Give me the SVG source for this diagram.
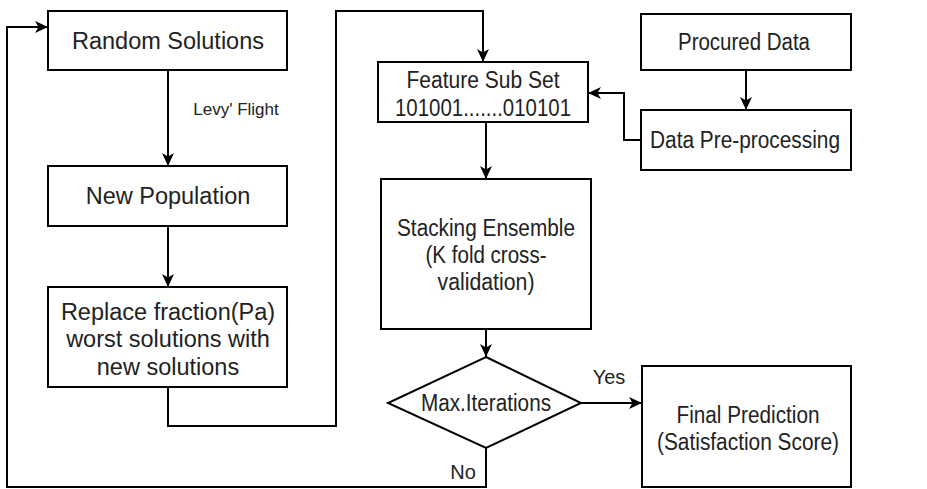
<svg xmlns="http://www.w3.org/2000/svg" width="927" height="489" viewBox="0 0 927 489">
<style>
.box{fill:#fff;stroke:#000;stroke-width:2}
.t{font-family:"Liberation Sans",Arial,sans-serif;font-size:23.5px;fill:#222;text-anchor:middle}
.r{font-family:"Liberation Sans",Arial,sans-serif;font-size:23px;fill:#222;text-anchor:middle}
.s{font-family:"Liberation Sans",Arial,sans-serif;font-size:17px;fill:#222;text-anchor:middle}
.l{font-family:"Liberation Sans",Arial,sans-serif;font-size:20px;fill:#222;text-anchor:middle}
.c{fill:none;stroke:#000;stroke-width:2}
</style>
<defs>
<marker id="arr" markerUnits="userSpaceOnUse" markerWidth="14" markerHeight="14" viewBox="0 0 14 14" refX="13" refY="7" orient="auto">
<path d="M0,1 L13,7 L0,13 L3.5,7 z" fill="#000"/>
</marker>
</defs>
<rect width="927" height="489" fill="#fff"/>
<g id="connectors">
<path class="c" d="M486,448 V487 H7 V27 H48" marker-end="url(#arr)"/>
<path class="c" d="M168,70 V166" marker-end="url(#arr)"/>
<path class="c" d="M168,226 V287" marker-end="url(#arr)"/>
<path class="c" d="M168,387 V426 H336 V11 H483 V62" marker-end="url(#arr)"/>
<path class="c" d="M746,70 V110" marker-end="url(#arr)"/>
<path class="c" d="M641,140 H624 V93 H588" marker-end="url(#arr)"/>
<path class="c" d="M486,122 V179" marker-end="url(#arr)"/>
<path class="c" d="M486,329 V357" marker-end="url(#arr)"/>
<path class="c" d="M581,403 H642" marker-end="url(#arr)"/>
<text class="s" x="236" y="115">Levy' Flight</text>
<text class="l" x="609" y="384">Yes</text>
<text class="l" x="463" y="479">No</text>
</g>
<g id="random">
<rect class="box" x="48" y="11" width="239" height="59"/>
<text class="t" x="168" y="49">Random Solutions</text>
</g>
<g id="newpop">
<rect class="box" x="48" y="166" width="239" height="60"/>
<text class="t" x="168" y="204">New Population</text>
</g>
<g id="replace">
<rect class="box" x="48" y="287" width="239" height="100"/>
<text class="t" x="168" y="320">Replace fraction(Pa)</text>
<text class="t" x="168" y="347">worst solutions with</text>
<text class="t" x="168" y="375">new solutions</text>
</g>
<g id="feature">
<rect class="box" x="378" y="62" width="210" height="60"/>
<text class="r" x="483" y="88" textLength="153" lengthAdjust="spacingAndGlyphs">Feature Sub Set</text>
<text class="r" x="483" y="116" textLength="176" lengthAdjust="spacingAndGlyphs">101001.......010101</text>
</g>
<g id="procured">
<rect class="box" x="641" y="14" width="210" height="56"/>
<text class="r" x="744" y="50" textLength="132" lengthAdjust="spacingAndGlyphs">Procured Data</text>
</g>
<g id="preproc">
<rect class="box" x="641" y="110" width="210" height="60"/>
<text class="r" x="745" y="148" textLength="190" lengthAdjust="spacingAndGlyphs">Data Pre-processing</text>
</g>
<g id="stacking">
<rect class="box" x="381" y="179" width="210" height="150"/>
<text class="r" x="486" y="236" textLength="178" lengthAdjust="spacingAndGlyphs">Stacking Ensemble</text>
<text class="r" x="486" y="263" textLength="121" lengthAdjust="spacingAndGlyphs">(K fold cross-</text>
<text class="r" x="486" y="290" textLength="97" lengthAdjust="spacingAndGlyphs">validation)</text>
</g>
<g id="maxiter">
<polygon class="box" points="486,357 581,403 486,448 388,403"/>
<text class="r" x="486" y="411" textLength="130" lengthAdjust="spacingAndGlyphs">Max.Iterations</text>
</g>
<g id="final">
<rect class="box" x="642" y="366" width="209" height="121"/>
<text class="r" x="748" y="423" textLength="143" lengthAdjust="spacingAndGlyphs">Final Prediction</text>
<text class="r" x="748" y="450" textLength="182" lengthAdjust="spacingAndGlyphs">(Satisfaction Score)</text>
</g>
</svg>
